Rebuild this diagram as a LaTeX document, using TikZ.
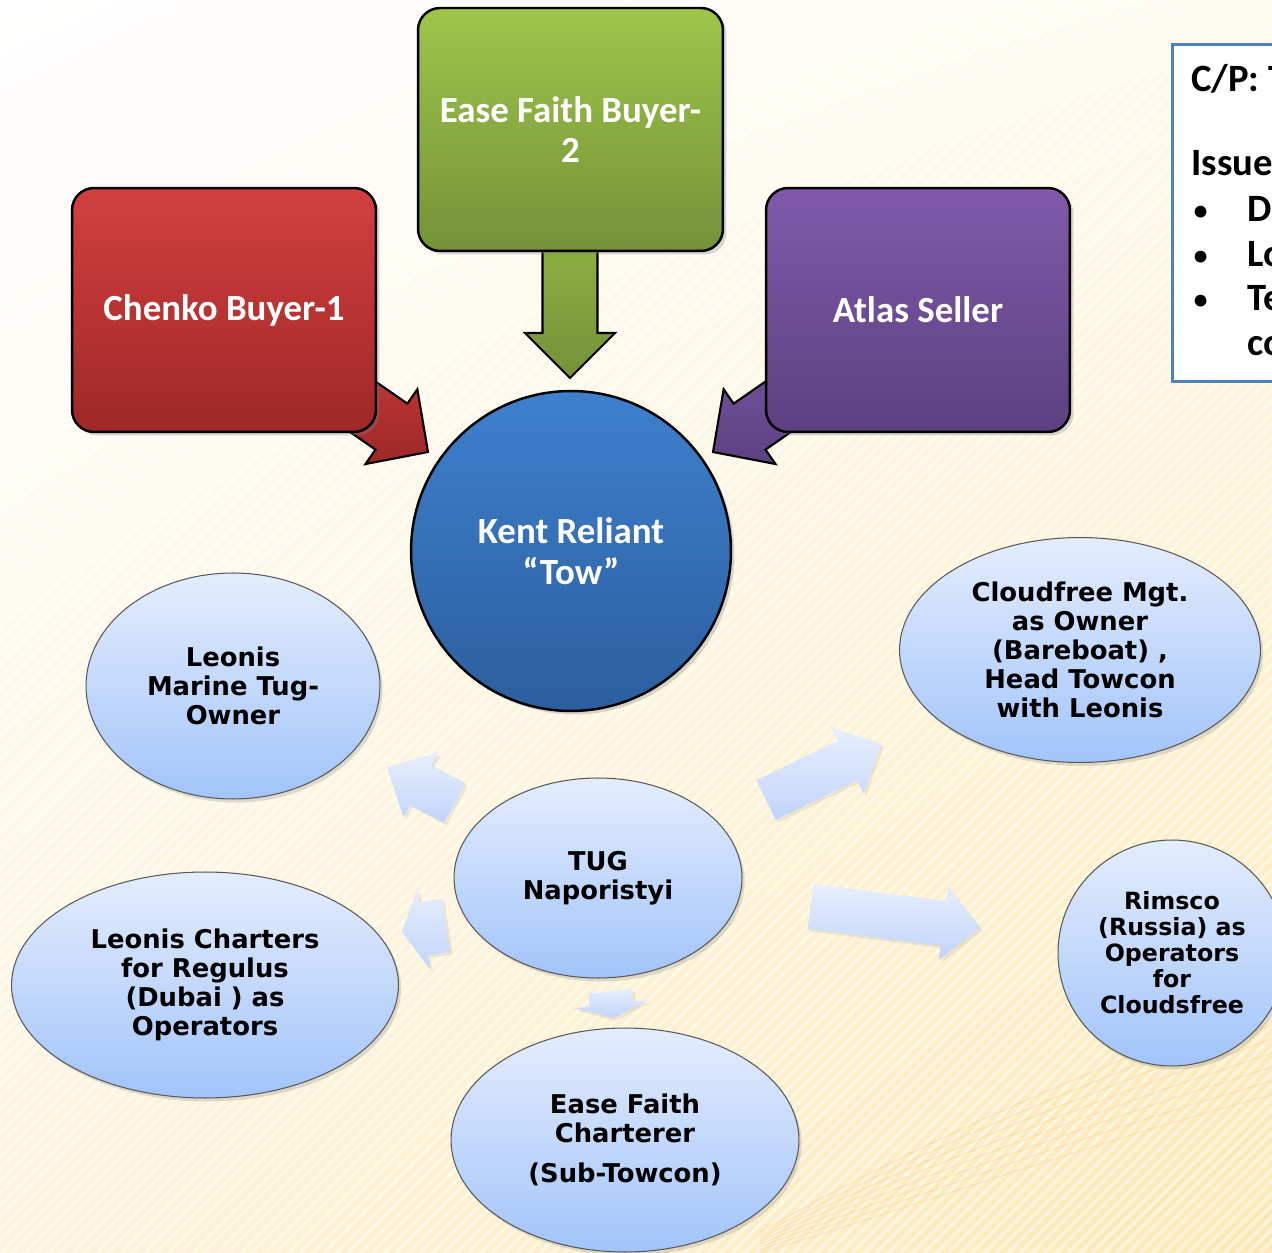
\documentclass[tikz,border=0pt]{standalone}
\usepackage{fontspec}
\newfontfamily\boxfont{Carlito}
\newfontfamily\ovalfont{DejaVu Sans}
\usetikzlibrary{calc,shadows,shadings,shapes.geometric}

\definecolor{redtop}{RGB}{210,64,62}
\definecolor{redbot}{RGB}{158,40,40}
\definecolor{greentop}{RGB}{158,198,74}
\definecolor{greenbot}{RGB}{116,145,56}
\definecolor{purpletop}{RGB}{128,90,170}
\definecolor{purplebot}{RGB}{92,64,128}
\definecolor{kenttop}{RGB}{62,128,205}
\definecolor{kentbot}{RGB}{44,94,158}
\definecolor{ovaltop}{RGB}{228,237,253}
\definecolor{ovalbot}{RGB}{162,196,250}
\definecolor{flowtop}{RGB}{232,239,253}
\definecolor{flowbot}{RGB}{192,212,250}
\definecolor{bgtr}{RGB}{254,250,238}
\definecolor{bgbl}{RGB}{253,244,220}
\definecolor{cream}{RGB}{252,233,180}
\definecolor{cpblue}{RGB}{79,129,189}

\tikzset{
  party/.style={rectangle, rounded corners=0.44cm, draw=black, line width=1.4pt,
    minimum width=6.08cm, minimum height=4.88cm, text=white, align=center,
    font=\boxfont\bfseries\fontsize{21pt}{23pt}\selectfont,
    drop shadow={opacity=0.3, shadow xshift=2pt, shadow yshift=-2pt}},
  oval/.style={ellipse, draw=black!65, line width=0.6pt, inner sep=0pt,
    top color=ovaltop, bottom color=ovalbot, align=center,
    font=\ovalfont\bfseries\fontsize{14.7pt}{16.5pt}\selectfont,
    drop shadow={opacity=0.25, shadow xshift=1.5pt, shadow yshift=-2pt}},
  flow/.style={top color=flowtop, bottom color=flowbot,
    drop shadow={opacity=0.15, shadow xshift=1.5pt, shadow yshift=-1.5pt}},
  feed/.style={draw=black, line width=1.2pt, line join=miter},
  cptext/.style={anchor=base west, inner sep=0pt,
    font=\boxfont\bfseries\fontsize{22pt}{26pt}\selectfont},
  cpbullet/.style={anchor=base west, inner sep=0pt,
    font=\boxfont\fontsize{19pt}{22pt}\selectfont}
}

% #1 style, #2 tail, #3 tip, #4 shaft half width, #5 head half width, #6 head length
\newcommand{\flowarrow}[6]{%
  \coordinate (ba tail) at #2;
  \coordinate (ba tip) at #3;
  \coordinate (ba base) at ($(ba tip)!#6!(ba tail)$);
  \path[#1] ($(ba tail)!#4!90:(ba tip)$) -- ($(ba base)!#4!90:(ba tip)$)
    -- ($(ba base)!#5!90:(ba tip)$) -- (ba tip) -- ($(ba base)!#5!-90:(ba tip)$)
    -- ($(ba base)!#4!-90:(ba tip)$) -- ($(ba tail)!#4!-90:(ba tip)$) -- cycle;
}

\begin{document}
\begin{tikzpicture}[x=0.02cm, y=-0.02cm]
  \useasboundingbox (0,0) rectangle (1272,1253);
  \clip (0,0) rectangle (1272,1253);

  % background
  \shade[upper left=white, upper right=bgtr, lower left=bgbl, lower right=cream]
    (0,0) rectangle (1272,1253);
  \foreach \s in {-1260,-1248,...,1272}
    \draw[white, opacity=0.5, line width=2pt] (\s,1253) -- ++(1253,-1253);
  \foreach \d in {0,10,...,70}
    \draw[orange!45, opacity=0.3, line width=0.8pt]
      (760,{1253-\d*0.3}) .. controls (950,{1195-\d}) and (1100,{1140-\d}) .. (1272,{1095-\d*1.4});

  % arrows into the tow
  \flowarrow{feed, top color=redtop!80!redbot, bottom color=redbot}{(304.7,366.5)}{(428,452)}{0.56cm}{0.91cm}{0.89cm}
  \flowarrow{feed, top color=purpletop!80!purplebot, bottom color=purplebot}{(836.3,366.5)}{(713,452)}{0.56cm}{0.91cm}{0.89cm}
  \flowarrow{feed, top color=greentop!60!greenbot, bottom color=greenbot}{(570,240)}{(570,378)}{0.55cm}{0.9cm}{0.9cm}

  \node (chenko) [party, top color=redtop, bottom color=redbot] at (224,310) {Chenko Buyer-1};
  \node (easebuyer) [party, top color=greentop, bottom color=greenbot, minimum height=4.86cm, minimum width=6.1cm]
    at (570.5,129.5) {Ease Faith Buyer-\\2};
  \node (atlas) [party, top color=purpletop, bottom color=purplebot] at (918,310) {Atlas Seller};

  \node (kent) [circle, draw=black, line width=1.4pt, minimum size=6.4cm, top color=kenttop,
    bottom color=kentbot, text=white, align=center, font=\boxfont\bfseries\fontsize{21pt}{23pt}\selectfont,
    drop shadow={opacity=0.3, shadow xshift=2pt, shadow yshift=-2pt}]
    at (571,551) {Kent Reliant\\“Tow”};

  % tug arrows
  \flowarrow{flow}{(454.5,803)}{(387,767)}{0.45cm}{0.73cm}{0.76cm}
  \flowarrow{flow}{(446,925)}{(402,932)}{0.54cm}{0.82cm}{0.44cm}
  \flowarrow{flow}{(610,991)}{(613,1018)}{0.44cm}{0.74cm}{0.28cm}
  \flowarrow{flow}{(766,800)}{(881,744)}{0.44cm}{0.74cm}{0.75cm}
  \flowarrow{flow}{(810.5,906.5)}{(980,928)}{0.45cm}{0.74cm}{0.74cm}

  \node (marine) [oval, minimum width=5.88cm, minimum height=4.52cm] at (233,686)
    {Leonis\\Marine Tug-\\Owner};
  \node (charters) [oval, minimum width=7.74cm, minimum height=4.52cm] at (205,985)
    {Leonis Charters\\for Regulus\\(Dubai ) as\\Operators};
  \node (tug) [oval, minimum width=5.76cm, minimum height=4cm] at (598,878)
    {TUG\\Naporistyi};
  \node (charterer) [oval, minimum width=6.96cm, minimum height=4.48cm] at (625,1140)
    {Ease Faith\\Charterer\\[6pt](Sub-Towcon)};
  \node (cloudfree) [oval, minimum width=7.22cm, minimum height=4.5cm] at (1080,650)
    {Cloudfree Mgt.\\as Owner\\(Bareboat) ,\\Head Towcon\\with Leonis};
  \node (rimsco) [oval, minimum width=4.56cm, minimum height=4.52cm,
    font=\ovalfont\bfseries\fontsize{13.5pt}{14.8pt}\selectfont] at (1172,953)
    {Rimsco\\(Russia) as\\Operators\\for\\Cloudsfree};

  % charter party box
  \node (cpbox) [anchor=north west, draw=cpblue, line width=1.7pt, fill=white,
    minimum width=4cm, minimum height=6.74cm] at (1171,43) {};
  \node (cphead) [cptext] at (1191,92) {C/P: T};
  \node (issues) [cptext] at (1191,176) {Issues};
  \foreach \y/\t [count=\i] in {222/De, 267/Lo, 311/Te} {
    \node (bullet\i) [cpbullet] at (1192,\y) {•};
    \node (issue\i) [cptext] at (1247,\y) {\t};
  }
  \node (issuecont) [cptext] at (1247,356) {co};
\end{tikzpicture}
\end{document}
